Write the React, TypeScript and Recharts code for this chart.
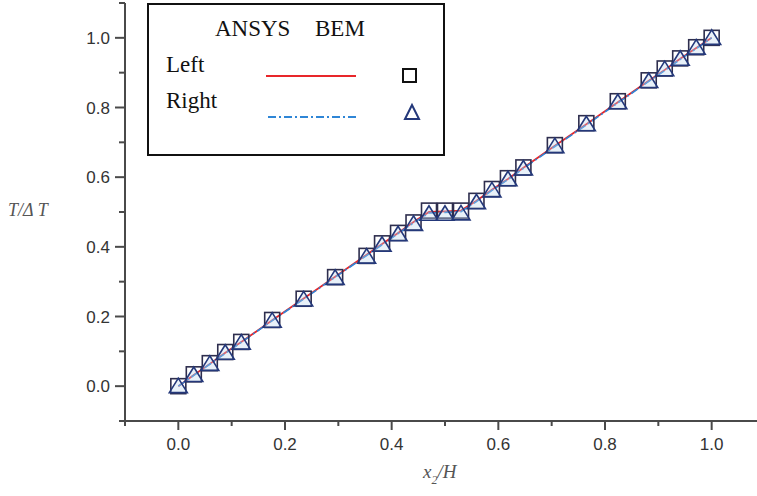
import React from 'react';
import { ComposedChart, Line, XAxis, YAxis } from 'recharts';

// node positions through the thickness
const xNodes = [0, 0.029, 0.059, 0.088, 0.118, 0.176, 0.235, 0.294, 0.353, 0.382, 0.412, 0.441, 0.47, 0.5, 0.53, 0.559, 0.588, 0.618, 0.647, 0.706, 0.765, 0.824, 0.882, 0.912, 0.941, 0.971, 1.0];

const ansysLeft = [0, 0.032, 0.064, 0.096, 0.127, 0.189, 0.252, 0.314, 0.377, 0.408, 0.44, 0.471, 0.5, 0.502, 0.504, 0.532, 0.564, 0.595, 0.627, 0.69, 0.752, 0.815, 0.877, 0.908, 0.94, 0.971, 1.0];
const ansysRight = [0, 0.031, 0.063, 0.094, 0.126, 0.188, 0.25, 0.313, 0.375, 0.406, 0.438, 0.469, 0.497, 0.499, 0.501, 0.53, 0.562, 0.593, 0.625, 0.688, 0.75, 0.813, 0.875, 0.906, 0.938, 0.969, 1.0];
const bemLeft = [0, 0.034, 0.066, 0.098, 0.127, 0.19, 0.251, 0.313, 0.374, 0.41, 0.44, 0.47, 0.504, 0.504, 0.504, 0.532, 0.566, 0.597, 0.628, 0.692, 0.755, 0.818, 0.878, 0.912, 0.941, 0.973, 1.0];
const bemRight = [0, 0.032, 0.064, 0.096, 0.125, 0.188, 0.249, 0.311, 0.372, 0.406, 0.436, 0.466, 0.495, 0.495, 0.496, 0.528, 0.562, 0.594, 0.625, 0.689, 0.752, 0.815, 0.876, 0.91, 0.94, 0.972, 1.0];

const xTicks = [-0.1, 0, 0.1, 0.2, 0.3, 0.4, 0.5, 0.6, 0.7, 0.8, 0.9, 1.0, 1.1];
const yTicks = [-0.1, 0, 0.1, 0.2, 0.3, 0.4, 0.5, 0.6, 0.7, 0.8, 0.9, 1.0, 1.1];
const majorTicks = ['0.0', '0.2', '0.4', '0.6', '0.8', '1.0'];

const rows = xNodes.map((x, i) => ({
  x,
  ansysLeft: ansysLeft[i],
  ansysRight: ansysRight[i],
  bemLeft: bemLeft[i],
  bemRight: bemRight[i],
}));

const AXIS = '#4a4a4a';
const RED = '#e8262a';
const BLUE = '#2f86d6';
const SQUARE = '#2e2e4e';
const TRI = '#24387a';
const tickFont = { fontFamily: '"Liberation Sans", Arial, sans-serif', fontSize: 17, fill: '#333' };
const serif = '"Liberation Serif", "Times New Roman", serif';

const isMajor = (v: number) => majorTicks.includes(v.toFixed(1));

const YTick = ({ x, y, payload }: any) => {
  const major = isMajor(payload.value);
  return (
    <g>
      <line x1={x - (major ? 10 : 6)} x2={x} y1={y} y2={y} stroke={AXIS} strokeWidth={2} />
      {major && (
        <text x={x - 15} y={y} dy={6} textAnchor="end" {...tickFont}>
          {payload.value.toFixed(1)}
        </text>
      )}
    </g>
  );
};

const XTick = ({ x, y, payload }: any) => {
  const major = isMajor(payload.value);
  return (
    <g>
      <line x1={x} x2={x} y1={y} y2={y + (major ? 9 : 5)} stroke={AXIS} strokeWidth={2} />
      {major && (
        <text x={x} y={y + 29} textAnchor="middle" {...tickFont}>
          {payload.value.toFixed(1)}
        </text>
      )}
    </g>
  );
};

const Square = ({ cx, cy }: any) =>
  cx == null ? null : (
    <rect x={cx - 7.5} y={cy - 7.5} width={15} height={15} fill="none" stroke={SQUARE} strokeWidth={1.6} />
  );

const Triangle = ({ cx, cy }: any) =>
  cx == null ? null : (
    <polygon
      points={`${cx},${cy - 8} ${cx - 9},${cy + 6.5} ${cx + 9},${cy + 6.5}`}
      fill="rgba(190,215,238,0.35)"
      stroke={TRI}
      strokeWidth={1.6}
    />
  );

const LegendBox = () => (
  <svg width={298} height={153} style={{ position: 'absolute', left: 147, top: 3 }}>
    <rect x={1} y={1} width={296} height={151} fill="#fff" stroke="#111" strokeWidth={2} />
    <g fontFamily={serif} fontSize={23} fill="#111">
      <text x={68} y={33}>ANSYS</text>
      <text x={168} y={33}>BEM</text>
      <text x={19} y={69}>Left</text>
      <text x={19} y={105}>Right</text>
    </g>
    <line x1={119} x2={209} y1={73} y2={73} stroke={RED} strokeWidth={2} />
    <line x1={121} x2={211} y1={114} y2={114} stroke={BLUE} strokeWidth={2} strokeDasharray="8 3 2 3" />
    <rect x={256} y={66} width={13} height={13} fill="none" stroke="#111" strokeWidth={2} />
    <polygon points="265,102 258,116 272,116" fill="none" stroke={TRI} strokeWidth={2} />
  </svg>
);

export default function App() {
  return (
    <div style={{ position: 'absolute', left: 0, top: 0, width: 757, height: 496, overflow: 'hidden', background: '#fff' }}>
      <ComposedChart width={790} height={496} data={rows} margin={{ top: 3, right: 25, bottom: 0, left: 0 }}>
        <XAxis
          dataKey="x"
          type="number"
          domain={[-0.1, 1.1]}
          ticks={xTicks}
          interval={0}
          height={75}
          tickSize={0}
          tickMargin={0}
          tick={<XTick />}
          axisLine={{ stroke: AXIS, strokeWidth: 2 }}
          label={{
            content: () => (
              <text x={423} y={478} fontFamily={serif} fontStyle="italic" fontSize={19} fill="#555">
                x<tspan fontSize={12} dy={6}>2</tspan>
                <tspan dy={-6}>/H</tspan>
              </text>
            ),
          }}
        />
        <YAxis
          type="number"
          domain={[-0.1, 1.1]}
          ticks={yTicks}
          interval={0}
          width={125}
          tickSize={0}
          tickMargin={0}
          tick={<YTick />}
          axisLine={{ stroke: AXIS, strokeWidth: 2 }}
          label={{
            content: () => (
              <text x={8} y={216} fontFamily={serif} fontStyle="italic" fontSize={18} fill="#555">
                T/Δ T
              </text>
            ),
          }}
        />
        <Line dataKey="bemLeft" stroke="none" dot={<Square />} activeDot={false} isAnimationActive={false} />
        <Line dataKey="bemRight" stroke="none" dot={<Triangle />} activeDot={false} isAnimationActive={false} />
        <Line dataKey="ansysLeft" stroke={RED} strokeWidth={1.8} dot={false} activeDot={false} isAnimationActive={false} />
        <Line
          dataKey="ansysRight"
          stroke={BLUE}
          strokeWidth={1.6}
          strokeDasharray="8 3 2 3"
          dot={false}
          activeDot={false}
          isAnimationActive={false}
        />
      </ComposedChart>
      <LegendBox />
    </div>
  );
}
